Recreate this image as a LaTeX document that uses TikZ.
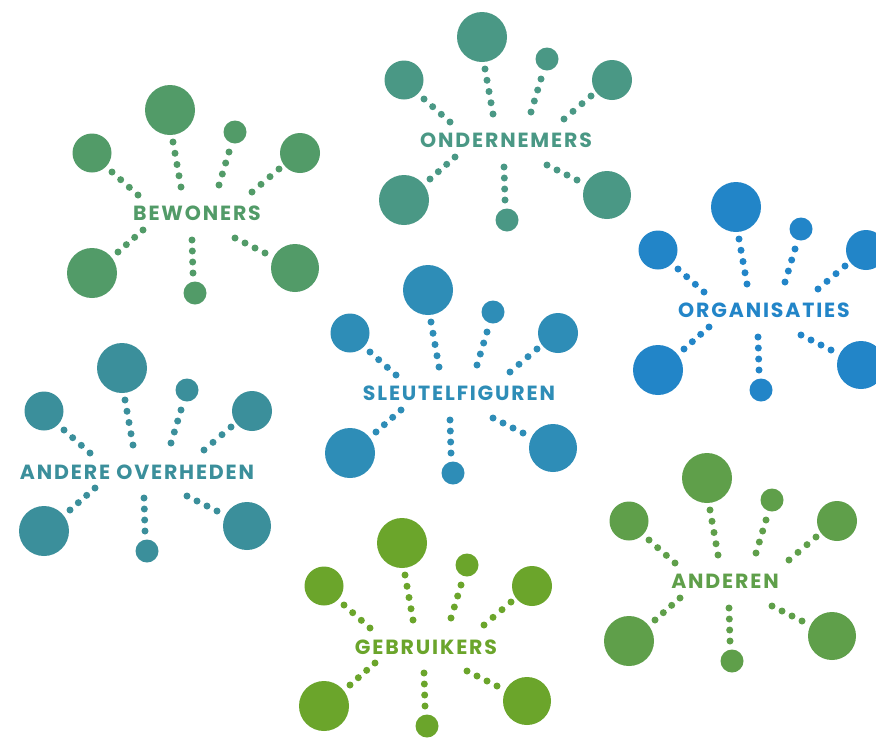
\documentclass[tikz,border=0pt]{standalone}
\usepackage{fontspec}
\setmainfont{Poppins}
\newfontfamily\lblfont[LetterSpace=9]{Poppins}
\usetikzlibrary{calc}
\definecolor{cBew}{HTML}{529B68}
\definecolor{cOnd}{HTML}{4A9885}
\definecolor{cOrg}{HTML}{2285C8}
\definecolor{cSle}{HTML}{2E8DB7}
\definecolor{cAnd}{HTML}{3B8F9B}
\definecolor{cGeb}{HTML}{6BA52B}
\definecolor{cAnn}{HTML}{5F9F4A}
\tikzset{
  blob/.style={circle, inner sep=0pt, draw=none, fill=#1},
  lbl/.style={inner sep=0pt, font=\lblfont\bfseries\fontsize{20.5}{22}\selectfont, text=#1},
}
\newcommand{\dotspoke}[3]{% start, end, count-1
  \foreach \i in {0,...,#3} \fill ($(#1)!{\i/#3}!(#2)$) circle[radius=3.5pt];
}
\newcommand{\stakeholder}[5]{% id, origin, colour, label, label offset
\begin{scope}[shift={#2}]
  \node[blob=#3, minimum size=50pt] (#1-top) at (0,0) {};
  \node[blob=#3, minimum size=23pt] (#1-tr) at (65,22) {};
  \node[blob=#3, minimum size=39pt] (#1-l) at (-78,43) {};
  \node[blob=#3, minimum size=40pt] (#1-r) at (130,43) {};
  \node[blob=#3, minimum size=50pt] (#1-ll) at (-78,163) {};
  \node[blob=#3, minimum size=48pt] (#1-lr) at (125,158) {};
  \node[blob=#3, minimum size=23pt] (#1-b) at (25,183) {};
  \node[lbl=#3] (#1-lbl) at #5 {#4};
  \coordinate (#1-s1) at (3,32);    \coordinate (#1-e1) at (11,77);
  \coordinate (#1-s2) at (59,42);   \coordinate (#1-e2) at (49,75);
  \coordinate (#1-s3) at (-58,62);  \coordinate (#1-e3) at (-32,85);
  \coordinate (#1-s4) at (109,59);  \coordinate (#1-e4) at (82,82);
  \coordinate (#1-s5) at (-27,120); \coordinate (#1-e5) at (-52,142);
  \coordinate (#1-s6) at (22,130);  \coordinate (#1-e6) at (23,163);
  \coordinate (#1-s7) at (65,128);  \coordinate (#1-e7) at (95,143);
  \begin{scope}[fill=#3]
    \dotspoke{#1-s1}{#1-e1}{4}
    \dotspoke{#1-s2}{#1-e2}{3}
    \dotspoke{#1-s3}{#1-e3}{3}
    \dotspoke{#1-s4}{#1-e4}{3}
    \dotspoke{#1-s5}{#1-e5}{3}
    \dotspoke{#1-s6}{#1-e6}{3}
    \dotspoke{#1-s7}{#1-e7}{3}
  \end{scope}
\end{scope}}
\begin{document}
\begin{tikzpicture}[x=1pt,y=-1pt]
\useasboundingbox (0,0) rectangle (876,737);
\fill[white] (0,0) rectangle (876,737);
\stakeholder{bew}{(170,110)}{cBew}{BEWONERS}{(27,103)}
\stakeholder{ond}{(482,37)}{cOnd}{ONDERNEMERS}{(24,103)}
\stakeholder{org}{(736,207)}{cOrg}{ORGANISATIES}{(28,103)}
\stakeholder{sle}{(428,290)}{cSle}{SLEUTELFIGUREN}{(31,103)}
\stakeholder{and}{(122,368)}{cAnd}{ANDERE OVERHEDEN}{(15,104)}
\stakeholder{geb}{(402,543)}{cGeb}{GEBRUIKERS}{(24,104)}
\stakeholder{ann}{(707,478)}{cAnn}{ANDEREN}{(18,103)}
\end{tikzpicture}
\end{document}
